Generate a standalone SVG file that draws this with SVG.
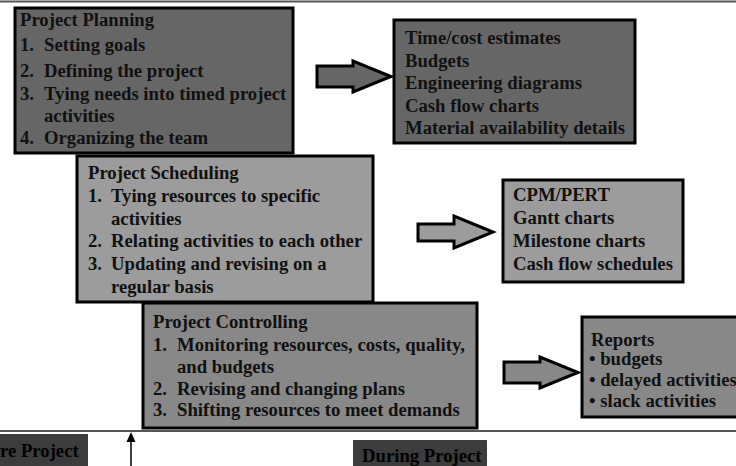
<svg xmlns="http://www.w3.org/2000/svg" width="736" height="466" viewBox="0 0 736 466">
  <style>
    text { font-family: "Liberation Serif", "Times New Roman", serif; font-weight: bold; font-size: 18.7px; fill: #111; }
    .box { stroke: #000; stroke-width: 3; }
    .dark { fill: #666; }
    .light { fill: #9c9c9c; }
    .mid { fill: #888; }
    .arrow { stroke: #000; stroke-width: 3; stroke-linejoin: miter; }
    .rule { stroke: #555; stroke-width: 2; }
    .tag { fill: #3c3c3c; }
    .tagtext { fill: #000; }
  </style>

  <!-- page rules -->
  <line class="rule" x1="0" y1="1.5" x2="736" y2="1.5"/>
  <line class="rule" x1="0" y1="431" x2="736" y2="431"/>

  <!-- planning -->
  <g id="planning">
    <rect class="box dark" x="15" y="8" width="278" height="145"/>
    <text x="20" y="25.5">Project Planning</text>
    <text x="20" y="51">1.</text><text x="44" y="51">Setting goals</text>
    <text x="20" y="77">2.</text><text x="44" y="77">Defining the project</text>
    <text x="20" y="99.5">3.</text><text x="44" y="99.5">Tying needs into timed project</text>
    <text x="44" y="122">activities</text>
    <text x="20" y="144">4.</text><text x="44" y="144">Organizing the team</text>
  </g>

  <g id="planning-outputs">
    <rect class="box dark" x="394" y="20" width="241" height="123"/>
    <text x="405" y="44">Time/cost estimates</text>
    <text x="405" y="66.5">Budgets</text>
    <text x="405" y="89">Engineering diagrams</text>
    <text x="405" y="111.5">Cash flow charts</text>
    <text x="405" y="134">Material availability details</text>
  </g>

  <!-- scheduling -->
  <g id="scheduling">
    <rect class="box light" x="77" y="156" width="296" height="146"/>
    <text x="88" y="179">Project Scheduling</text>
    <text x="88" y="202">1.</text><text x="111" y="202">Tying resources to specific</text>
    <text x="111" y="224.5">activities</text>
    <text x="88" y="247">2.</text><text x="111" y="247">Relating activities to each other</text>
    <text x="88" y="270">3.</text><text x="111" y="270">Updating and revising on a</text>
    <text x="111" y="292.5">regular basis</text>
  </g>

  <g id="scheduling-outputs">
    <rect class="box light" x="503" y="180" width="180" height="102"/>
    <text x="513" y="201">CPM/PERT</text>
    <text x="513" y="223.5">Gantt charts</text>
    <text x="513" y="246.5">Milestone charts</text>
    <text x="513" y="269.5">Cash flow schedules</text>
  </g>

  <!-- controlling -->
  <g id="controlling">
    <rect class="box mid" x="143" y="303" width="334" height="125"/>
    <text x="153" y="328">Project Controlling</text>
    <text x="153" y="351">1.</text><text x="177" y="351">Monitoring resources, costs, quality,</text>
    <text x="177" y="372.5">and budgets</text>
    <text x="153" y="394.5">2.</text><text x="177" y="394.5">Revising and changing plans</text>
    <text x="153" y="416">3.</text><text x="177" y="416">Shifting resources to meet demands</text>
  </g>

  <g id="controlling-outputs">
    <rect class="box mid" x="582" y="317" width="170" height="100"/>
    <text x="591" y="346">Reports</text>
    <text x="589" y="365">• budgets</text>
    <text x="589" y="386">• delayed activities</text>
    <text x="589" y="407">• slack activities</text>
  </g>

  <!-- block arrows and phase marker -->
  <g id="connectors">
    <polygon class="arrow dark" points="317,66 353,66 353,61 391,76.5 353,92 353,87 317,87"/>
    <polygon class="arrow light" points="418,224 454,224 454,216 493,232 454,248 454,241 418,241"/>
    <polygon class="arrow mid" points="504,362 540,362 540,357 578,372.5 540,388 540,383 504,383"/>
    <line x1="131" y1="466" x2="131" y2="440" stroke="#000" stroke-width="1.5"/>
    <polygon points="131,432 126.5,442 135.5,442" fill="#000"/>
  </g>

  <!-- phase tags -->
  <g id="tag-before">
    <rect class="tag" x="0" y="434" width="88" height="32"/>
    <text class="tagtext" x="0" y="457">re Project</text>
  </g>
  <g id="tag-during">
    <rect class="tag" x="353" y="440" width="134" height="26"/>
    <text class="tagtext" x="362" y="462">During Project</text>
  </g>
</svg>
